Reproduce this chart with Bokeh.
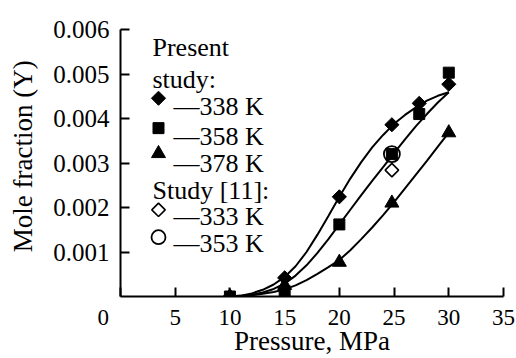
import numpy as np
from bokeh.plotting import figure
from bokeh.models import Range1d, FixedTicker, Label
from bokeh.embed import file_html
from bokeh.resources import INLINE

# ---------------- data ----------------
pressure_338 = [10, 15, 20, 24.8, 27.3, 30]
y_338 = [0.0, 0.00042, 0.00224, 0.00386, 0.00434, 0.00477]

pressure_358 = [10, 15, 20, 24.8, 27.3, 30]
y_358 = [0.0, 0.00012, 0.00162, 0.00320, 0.00410, 0.00503]

pressure_378 = [10, 15, 20, 24.8, 30]
y_378 = [0.0, 0.00025, 0.00077, 0.00210, 0.00368]

pressure_333_ref = [24.8]
y_333_ref = [0.00284]

pressure_353_ref = [24.8]
y_353_ref = [0.00320]

# fitted curves at every 1 MPa
fit_pressure = [10, 11, 12, 13, 14, 15, 16, 17, 18, 19, 20,
                21, 22, 23, 24, 25, 26, 27, 28, 29, 30]
fit_338 = [0.0, 0.00002, 0.00007, 0.00015, 0.00027, 0.00044, 0.00068, 0.00100,
           0.00139, 0.00181, 0.00224, 0.00265, 0.00302, 0.00335, 0.00363,
           0.00388, 0.00408, 0.00425, 0.00440, 0.00451, 0.00459]
fit_358 = [0.0, 0.00001, 0.00004, 0.00009, 0.00017, 0.00029, 0.00047, 0.00070,
           0.00098, 0.00129, 0.00162, 0.00195, 0.00228, 0.00260, 0.00291,
           0.00322, 0.00353, 0.00383, 0.00410, 0.00436, 0.00459]
fit_378 = [0.0, 0.00001, 0.00003, 0.00006, 0.00010, 0.00016, 0.00025, 0.00037,
           0.00051, 0.00066, 0.00082, 0.00104, 0.00129, 0.00155, 0.00183,
           0.00212, 0.00243, 0.00274, 0.00305, 0.00337, 0.00368]

x_ticks = [0, 5, 10, 15, 20, 25, 30, 35]
x_tick_labels = ["0", "5", "10", "15", "20", "25", "30", "35"]
y_ticks = [0.001, 0.002, 0.003, 0.004, 0.005, 0.006]
y_tick_labels = ["0.001", "0.002", "0.003", "0.004", "0.005", "0.006"]

x_title = "Pressure, MPa"
y_title = "Mole fraction (Y)"
legend_labels = ["\u2014338 K", "\u2014358 K", "\u2014378 K", "\u2014333 K", "\u2014353 K"]

# ---------------- layout ----------------
W, H = 516, 358
FL, FR, FT, FB = 120, 503, 29, 297   # frame edges in px
XMAX, YMAX = 35, 0.006
FONT = "Liberation Serif"
INK = "black"
NBSP = "\u00a0"


def dx(px):
    return (px - FL) / (FR - FL) * XMAX


def dy(py):
    return (FB - py) / (FB - FT) * YMAX


p = figure(width=W, height=H, output_backend="svg", toolbar_location=None,
           x_range=Range1d(0, XMAX), y_range=Range1d(0, YMAX),
           min_border_left=FL, min_border_right=W - FR,
           min_border_top=FT, min_border_bottom=H - FB)
p.outline_line_color = None
p.xgrid.visible = False
p.ygrid.visible = False
p.background_fill_color = "white"
p.border_fill_color = "white"

for ax in (p.xaxis[0], p.yaxis[0]):
    ax.axis_line_width = 2
    ax.axis_line_color = INK
    ax.major_tick_in = 9
    ax.major_tick_out = 0
    ax.major_tick_line_width = 2
    ax.major_tick_line_color = INK
    ax.minor_tick_line_color = None
    ax.major_label_text_font = FONT
    ax.major_label_text_color = INK
    ax.axis_label_text_font = FONT
    ax.axis_label_text_color = INK
    ax.axis_label_text_font_style = "normal"

# x axis: the origin "0" is drawn left of the corner, as in the reference
xlab = dict(zip(x_ticks, x_tick_labels))
xlab[0] = xlab[0] + NBSP * 6
p.xaxis.ticker = FixedTicker(ticks=x_ticks)
p.xaxis.major_label_overrides = xlab
p.xaxis.major_label_text_font_size = "23px"
p.xaxis.major_label_standoff = 8
p.xaxis.axis_label = x_title
p.xaxis.axis_label_text_font_size = "27px"
p.xaxis.axis_label_standoff = -7

p.yaxis.ticker = FixedTicker(ticks=y_ticks)
p.yaxis.major_label_overrides = dict(zip(y_ticks, y_tick_labels))
p.yaxis.major_label_text_font_size = "25px"
p.yaxis.major_label_standoff = 11
p.yaxis.axis_label = NBSP * 2 + y_title
p.yaxis.axis_label_text_font_size = "27px"
p.yaxis.axis_label_standoff = 12

# ---------------- curves ----------------
for ys in (fit_338, fit_358, fit_378):
    p.line(fit_pressure, ys, line_color=INK, line_width=2)

# ---------------- markers ----------------
p.scatter(pressure_378, y_378, marker="triangle", size=14, fill_color=INK, line_color=INK)
p.scatter(pressure_358, y_358, marker="square", size=11, fill_color=INK, line_color=INK)
p.scatter(pressure_338, y_338, marker="square", angle=np.pi / 4, size=10,
          fill_color=INK, line_color=INK)
p.scatter(pressure_333_ref, y_333_ref, marker="square", angle=np.pi / 4, size=9.5,
          fill_color="white", line_color=INK, line_width=1.6)
p.scatter(pressure_353_ref, y_353_ref, marker="circle", size=16,
          fill_alpha=0, line_color=INK, line_width=1.8)

# ---------------- legend (drawn by hand, as in the reference) ----------------
KX = 158
key_rows = [98, 128, 153.5, 210, 237.5]
p.scatter([dx(KX)], [dy(key_rows[0])], marker="square", angle=np.pi / 4, size=10,
          fill_color=INK, line_color=INK)
p.scatter([dx(KX)], [dy(key_rows[1])], marker="square", size=11,
          fill_color=INK, line_color=INK)
p.scatter([dx(KX)], [dy(key_rows[2])], marker="triangle", size=14,
          fill_color=INK, line_color=INK)
p.scatter([dx(KX)], [dy(key_rows[3])], marker="square", angle=np.pi / 4, size=9.5,
          fill_color="white", line_color=INK, line_width=1.6)
p.scatter([dx(KX)], [dy(key_rows[4])], marker="circle", size=14,
          fill_alpha=0, line_color=INK, line_width=1.8)

text_baselines = [106, 136.7, 163.3, 216.7, 243.3]
for lab, by in zip(legend_labels, text_baselines):
    p.add_layout(Label(x=dx(173), y=dy(by), text=lab, text_font=FONT,
                       text_font_size="26px", text_color=INK,
                       text_align="left", text_baseline="alphabetic"))

for txt, by in (("Present", 46.7), ("study:", 79), ("Study [11]:", 191)):
    p.add_layout(Label(x=dx(152), y=dy(by), text=txt, text_font=FONT,
                       text_font_size="26px", text_color=INK,
                       text_align="left", text_baseline="alphabetic"))

open("out.html", "w").write(file_html(p, INLINE))
